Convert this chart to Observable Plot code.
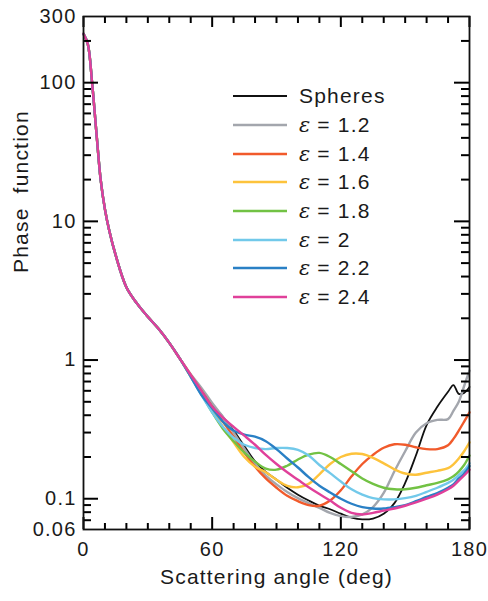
<!DOCTYPE html>
<html><head><meta charset="utf-8">
<script src="https://cdn.jsdelivr.net/npm/d3@7"></script>
<script src="https://cdn.jsdelivr.net/npm/@observablehq/plot@0.6"></script>
<style>
body{margin:0;background:#fff;}
#wrap{position:relative;width:488px;height:601px;font-family:"Liberation Sans",Arial,sans-serif;}
#wrap svg text{letter-spacing:1.2px;}
#legend{position:absolute;left:233px;top:82px;}
.row{display:flex;align-items:center;height:28.7px;font-size:21px;letter-spacing:1.2px;color:#1a1a1a;white-space:nowrap;}
.row svg{margin-right:12px;display:block;}
.eps{font-family:"DejaVu Serif","Liberation Serif",serif;font-style:italic;letter-spacing:0;}
</style></head>
<body><div id="wrap"></div>
<script>
// scattering angles (deg)
const angles = [0,2,4,6,8,10,12,15,20,25,30,35,40,45,
  50,55,60,65,70,75,80,85,90,95,100,105,110,115,120,125,130,135,140,145,150,155,160,165,170,
  172.5,175,177.5,180];

const spheres = [225,190,100,44,20,12.2,8.6,5.7,3.35,2.55,2.05,1.68,1.33,1.02,
  0.78,0.61,0.48,0.39,0.31,0.24,0.186,0.156,0.137,0.12,0.107,0.097,0.089,0.084,0.078,0.073,0.071,0.072,0.078,0.093,0.13,0.205,0.34,0.46,0.59,
  0.66,0.57,0.58,0.64];
const eps12 = [225,190,100,44,20,12.2,8.6,5.7,3.35,2.55,2.05,1.68,1.33,1.02,
  0.79,0.63,0.49,0.39,0.30,0.23,0.178,0.147,0.127,0.112,0.101,0.093,0.086,0.079,0.075,0.074,0.077,0.087,0.11,0.158,0.22,0.30,0.35,0.37,0.375,
  0.43,0.5,0.65,0.84];
const eps14 = [225,190,100,44,20,12.2,8.6,5.7,3.35,2.55,2.05,1.68,1.33,1.02,
  0.78,0.6,0.46,0.36,0.28,0.215,0.17,0.14,0.12,0.105,0.096,0.09,0.089,0.097,0.115,0.145,0.178,0.207,0.233,0.247,0.245,0.235,0.228,0.228,0.243,
  0.27,0.31,0.36,0.42];
const eps16 = [225,190,100,44,20,12.2,8.6,5.7,3.35,2.55,2.05,1.68,1.33,1.02,
  0.77,0.58,0.44,0.33,0.255,0.2,0.17,0.155,0.137,0.124,0.121,0.128,0.15,0.178,0.2,0.211,0.21,0.197,0.18,0.163,0.152,0.149,0.154,0.159,0.166,
  0.177,0.195,0.22,0.255];
const eps18 = [225,190,100,44,20,12.2,8.6,5.7,3.35,2.55,2.05,1.68,1.33,1.02,
  0.76,0.57,0.42,0.32,0.26,0.215,0.185,0.165,0.162,0.173,0.192,0.208,0.214,0.2,0.178,0.158,0.14,0.128,0.12,0.117,0.117,0.12,0.125,0.13,0.138,
  0.145,0.157,0.175,0.205];
const eps20 = [225,190,100,44,20,12.2,8.6,5.7,3.35,2.55,2.05,1.68,1.33,1.02,
  0.76,0.56,0.42,0.33,0.275,0.245,0.232,0.228,0.232,0.232,0.225,0.205,0.175,0.153,0.133,0.117,0.107,0.101,0.099,0.099,0.101,0.105,0.112,0.12,0.13,
  0.137,0.148,0.16,0.18];
const eps22 = [225,190,100,44,20,12.2,8.6,5.7,3.35,2.55,2.05,1.68,1.33,1.02,
  0.76,0.56,0.45,0.36,0.31,0.29,0.28,0.26,0.228,0.195,0.168,0.143,0.124,0.111,0.1,0.092,0.087,0.085,0.085,0.087,0.09,0.096,0.103,0.11,0.12,
  0.127,0.14,0.152,0.172];
const eps24 = [225,190,100,44,20,12.2,8.6,5.7,3.35,2.55,2.05,1.68,1.33,1.02,
  0.78,0.6,0.46,0.385,0.33,0.285,0.245,0.207,0.178,0.155,0.137,0.121,0.108,0.097,0.086,0.079,0.077,0.079,0.082,0.085,0.089,0.094,0.1,0.107,0.117,
  0.124,0.135,0.147,0.162];

const seriesLabels = ["Spheres","1.2","1.4","1.6","1.8","2","2.2","2.4"];
const seriesValues = [spheres,eps12,eps14,eps16,eps18,eps20,eps22,eps24];
const seriesColors = ["#111111","#a3a6ad","#f15a2b","#fdc33c","#72c244","#72c9ea","#2a80c5","#e0409a"];
const seriesWidths = [1.8,2.4,2.4,2.4,2.4,2.4,2.4,2.4];

// tick values and labels
const yLabelTicks = [0.06,0.1,1,10,100,300];
const yMajor = [0.1,1,10,100];
const yMinor = [0.07,0.08,0.09,0.2,0.3,0.4,0.5,0.6,0.7,0.8,0.9,2,3,4,5,6,7,8,9,20,30,40,50,60,70,80,90,200];
const xMajor = [0,60,120,180];
const xMinor = [10,20,30,40,50,70,80,90,100,110,130,140,150,160,170];
const xTitle = "Scattering angle (deg)";
const yTitle = "Phase\u00a0\u00a0function";

const W = 488, H = 601, mL = 83, mR = 19, mT = 16, mB = 72;
const xDomain = [0, 180], yDomain = [0.06, 300];

// standalone copies of the chart's scales, used to turn tick lengths (px) into data units
const xs = Plot.scale({x: {domain: xDomain, range: [mL, W - mR]}});
const ys = Plot.scale({y: {type: "log", domain: yDomain, range: [H - mB, mT]}});

const lineMarks = seriesValues.map((vals, i) =>
  Plot.line(angles.map((a, j) => ({angle: a, value: vals[j]})), {
    x: "angle", y: "value", stroke: seriesColors[i], strokeWidth: seriesWidths[i], curve: "catmull-rom"
  })
);

// inward ticks as short rules
const tickStyle = {stroke: "black", strokeWidth: 2};
const yTicks = (data, side, len) => side === "left"
  ? Plot.ruleY(data, {y: d => d, x1: xDomain[0], x2: xs.invert(mL + len), ...tickStyle})
  : Plot.ruleY(data, {y: d => d, x1: xs.invert(W - mR - len), x2: xDomain[1], ...tickStyle});
const xTicks = (data, side, len) => side === "bottom"
  ? Plot.ruleX(data, {x: d => d, y1: yDomain[0], y2: ys.invert(H - mB - len), ...tickStyle})
  : Plot.ruleX(data, {x: d => d, y1: ys.invert(mT + len), y2: yDomain[1], ...tickStyle});

const chart = Plot.plot({
  width: W, height: H,
  marginLeft: mL, marginRight: mR, marginTop: mT, marginBottom: mB,
  style: {fontFamily: "Liberation Sans, Arial, sans-serif", fontSize: "20px"},
  x: {domain: xDomain, axis: null},
  y: {type: "log", domain: yDomain, axis: null},
  marks: [
    ...lineMarks,
    yTicks(yMajor, "left", 15), yTicks(yMinor, "left", 8),
    yTicks(yMajor, "right", 15), yTicks(yMinor, "right", 8),
    xTicks(xMajor, "bottom", 12), xTicks(xMinor, "bottom", 6),
    xTicks(xMajor, "top", 11), xTicks(xMinor, "top", 7),
    Plot.text(yLabelTicks, {y: d => d, text: d => String(d), frameAnchor: "left", dx: -7, textAnchor: "end", fill: "#1a1a1a", fontSize: 20}),
    Plot.text(xMajor, {x: d => d, text: d => String(d), frameAnchor: "bottom", dy: 12, lineAnchor: "top", fill: "#1a1a1a", fontSize: 20}),
    Plot.text([yTitle], {frameAnchor: "left", dx: -62, rotate: -90, fontSize: 21, fill: "#1a1a1a"}),
    Plot.text([xTitle], {frameAnchor: "bottom", dy: 54, fontSize: 21, fill: "#1a1a1a"}),
    Plot.frame({stroke: "#111", strokeWidth: 1.8})
  ]
});
const wrap = document.getElementById("wrap");
wrap.appendChild(chart);

// legend
const legend = document.createElement("div");
legend.id = "legend";
seriesLabels.forEach((lab, i) => {
  const row = document.createElement("div");
  row.className = "row";
  const svg = d3.create("svg").attr("width", 54).attr("height", 6);
  svg.append("line").attr("x1", 0).attr("x2", 54).attr("y1", 3).attr("y2", 3)
    .attr("stroke", seriesColors[i]).attr("stroke-width", seriesWidths[i]);
  row.appendChild(svg.node());
  const t = document.createElement("span");
  if (i === 0) t.textContent = lab;
  else t.innerHTML = '<span class="eps">ε</span> = ' + lab;
  row.appendChild(t);
  legend.appendChild(row);
});
wrap.appendChild(legend);
</script>
</body></html>
